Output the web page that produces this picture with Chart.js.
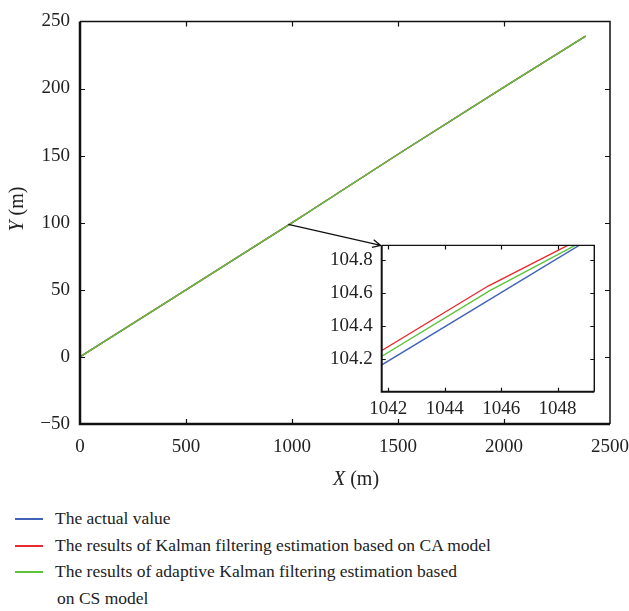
<!DOCTYPE html>
<html>
<head>
<meta charset="utf-8">
<script src="https://cdn.jsdelivr.net/npm/chart.js@4.4.1/dist/chart.umd.min.js"></script>
<style>
  html, body { margin: 0; padding: 0; background: #fff; }
  #wrap { position: relative; width: 629px; height: 611px; overflow: hidden; }
  #main { position: absolute; left: 0; top: 0; }
  #inset { position: absolute; left: 320px; top: 225px; }
  #legend { position: absolute; left: 0; top: 505px; font-family: "Liberation Serif", serif; font-size: 17.5px; color: #222; }
  #legend .row { position: relative; height: 26.7px; line-height: 26.7px; padding-left: 55px; white-space: nowrap; }
  #legend .swatch { position: absolute; left: 15px; top: 13px; width: 28px; height: 2px; }
</style>
</head>
<body>
<div id="wrap">
  <canvas id="main" width="680" height="500"></canvas>
  <canvas id="inset" width="300" height="200"></canvas>
  <div id="legend"></div>
</div>
<script>
// series (x in m, y in m)
const actualX = [0, 500, 1000, 1041, 1049.5, 1500, 2000, 2385];
const actualY = [0, 50, 99.9, 104.083, 104.967, 151, 201, 239];
const caX = [0, 500, 1000, 1041, 1045.54, 1049.5, 1500, 2000, 2385];
const caY = [0, 50, 100, 104.17, 104.643, 104.99, 151, 201, 239];
const csX = [0, 500, 1000, 1041, 1045.6, 1049.5, 1500, 2000, 2385];
const csY = [0, 50, 100, 104.135, 104.615, 104.97, 151, 201, 239];

const seriesNames = [
  'The actual value',
  'The results of Kalman filtering estimation based on CA model',
  'The results of adaptive Kalman filtering estimation based<br>on CS model'
];
const seriesColors = ['#4062b8', '#ea2a30', '#5cc43a'];

const mainXTicks = [0, 500, 1000, 1500, 2000, 2500];
const mainYTicks = [-50, 0, 50, 100, 150, 200, 250];
const insetXTicks = [1042, 1044, 1046, 1048];
const insetYTicks = [104.2, 104.4, 104.6, 104.8];

const zoomFrom = { x: 982.6, y: 98.8 };

const FONT = '"Liberation Serif", "DejaVu Serif", serif';

function pts(xs, ys) { return xs.map((x, i) => ({ x: x, y: ys[i] })); }

function makeDatasets() {
  // lowest order is drawn on top: green over red over blue
  return [
    { data: pts(actualX, actualY), borderColor: seriesColors[0], order: 2 },
    { data: pts(caX, caY), borderColor: seriesColors[1], order: 1 },
    { data: pts(csX, csY), borderColor: seriesColors[2], order: 0 }
  ].map(d => Object.assign(d, { borderWidth: 1.4, pointRadius: 0, tension: 0, fill: false }));
}

// inward tick marks + box
const frame = {
  id: 'frame',
  afterDraw(chart, args, opts) {
    const { ctx, chartArea: a } = chart;
    const xs = chart.scales.x, ys = chart.scales.y;
    const L = opts.len;
    ctx.save();
    ctx.strokeStyle = '#111';
    ctx.lineWidth = 1.2;
    ctx.beginPath();
    xs.ticks.forEach(t => {
      const px = Math.round(xs.getPixelForValue(t.value)) + 0.5;
      if (px <= a.left + 1 || px >= a.right - 1) return;
      ctx.moveTo(px, a.bottom); ctx.lineTo(px, a.bottom - L);
      ctx.moveTo(px, a.top); ctx.lineTo(px, a.top + L);
    });
    ys.ticks.forEach(t => {
      const py = Math.round(ys.getPixelForValue(t.value)) + 0.5;
      if (py <= a.top + 1 || py >= a.bottom - 1) return;
      ctx.moveTo(a.left, py); ctx.lineTo(a.left + L, py);
      ctx.moveTo(a.right, py); ctx.lineTo(a.right - L, py);
    });
    ctx.stroke();
    // box: heavier left/bottom
    ctx.lineWidth = opts.thin;
    ctx.beginPath();
    ctx.moveTo(a.left, a.top); ctx.lineTo(a.right, a.top); ctx.lineTo(a.right, a.bottom);
    ctx.stroke();
    ctx.lineWidth = opts.thick;
    ctx.beginPath();
    ctx.moveTo(a.left, a.top); ctx.lineTo(a.left, a.bottom); ctx.lineTo(a.right, a.bottom);
    ctx.stroke();
    ctx.restore();
  }
};

function drawMixed(ctx, parts, cx, cy) {
  let w = 0;
  parts.forEach(p => { ctx.font = p.font; w += ctx.measureText(p.text).width; });
  let x = cx - w / 2;
  ctx.textBaseline = 'middle';
  ctx.textAlign = 'left';
  parts.forEach(p => { ctx.font = p.font; ctx.fillText(p.text, x, cy); x += ctx.measureText(p.text).width; });
}

const axisTitles = {
  id: 'axisTitles',
  afterDraw(chart) {
    const ctx = chart.ctx;
    const it = 'italic 20px ' + FONT, rg = '20px ' + FONT;
    ctx.save();
    ctx.fillStyle = '#222';
    drawMixed(ctx, [{ text: 'X', font: it }, { text: ' (m)', font: rg }], 356, 480);
    ctx.translate(18, 209);
    ctx.rotate(-Math.PI / 2);
    drawMixed(ctx, [{ text: 'Y', font: it }, { text: ' (m)', font: rg }], 0, 0);
    ctx.restore();
  }
};

const minusFmt = v => String(v).replace('-', '\u2212');

// inset chart first so the arrow can find its corner
const insetChart = new Chart(document.getElementById('inset'), {
  type: 'line',
  data: { datasets: makeDatasets() },
  options: {
    responsive: false,
    animation: false,
    events: [],
    layout: { padding: { top: 10, right: 25.7, left: 0, bottom: 0 } },
    plugins: { legend: { display: false }, tooltip: { enabled: false }, frame: { len: 4, thin: 1.4, thick: 2 } },
    scales: {
      x: {
        type: 'linear', min: 1041.77, max: 1049.3,
        afterBuildTicks: s => { s.ticks = insetXTicks.map(v => ({ value: v })); },
        afterFit: s => { s.height = 33.3; },
        grid: { display: false, drawTicks: false },
        border: { display: false },
        ticks: { padding: 6, color: '#222', font: { family: FONT, size: 19 }, callback: v => String(v), maxRotation: 0 }
      },
      y: {
        type: 'linear', min: 104.0, max: 104.89,
        afterBuildTicks: s => { s.ticks = insetYTicks.map(v => ({ value: v })); },
        afterFit: s => { s.width = 61.7; },
        grid: { display: false, drawTicks: false },
        border: { display: false },
        ticks: { padding: 9, color: '#222', font: { family: FONT, size: 19 }, callback: v => v.toFixed(1) }
      }
    }
  },
  plugins: [frame]
});

const arrow = {
  id: 'arrow',
  afterDraw(chart) {
    const ctx = chart.ctx;
    const x0 = chart.scales.x.getPixelForValue(zoomFrom.x);
    const y0 = chart.scales.y.getPixelForValue(zoomFrom.y);
    const ia = insetChart.chartArea;
    const x1 = 320 + ia.left - 1, y1 = 225 + ia.top;
    const ang = Math.atan2(y1 - y0, x1 - x0);
    ctx.save();
    ctx.strokeStyle = '#111';
    ctx.lineWidth = 1.3;
    ctx.beginPath();
    ctx.moveTo(x0, y0); ctx.lineTo(x1, y1);
    ctx.moveTo(x1 - 9 * Math.cos(ang - 0.45), y1 - 9 * Math.sin(ang - 0.45));
    ctx.lineTo(x1, y1);
    ctx.lineTo(x1 - 9 * Math.cos(ang + 0.45), y1 - 9 * Math.sin(ang + 0.45));
    ctx.stroke();
    ctx.restore();
  }
};

// canvas is wider than the page so the "2500" label does not shrink the plot
const mainChart = new Chart(document.getElementById('main'), {
  type: 'line',
  data: { datasets: makeDatasets() },
  options: {
    responsive: false,
    animation: false,
    events: [],
    layout: { padding: { top: 14, right: 70, left: 0, bottom: 0 } },
    plugins: { legend: { display: false }, tooltip: { enabled: false }, frame: { len: 5, thin: 1.5, thick: 2.5 } },
    scales: {
      x: {
        type: 'linear', min: 0, max: 2500,
        afterBuildTicks: s => { s.ticks = mainXTicks.map(v => ({ value: v })); },
        afterFit: s => { s.height = 76; },
        grid: { display: false, drawTicks: false },
        border: { display: false },
        ticks: { padding: 12, color: '#222', font: { family: FONT, size: 19 }, callback: v => String(v), maxRotation: 0 }
      },
      y: {
        type: 'linear', min: -50, max: 250,
        afterBuildTicks: s => { s.ticks = mainYTicks.map(v => ({ value: v })); },
        afterFit: s => { s.width = 80; },
        grid: { display: false, drawTicks: false },
        border: { display: false },
        ticks: { padding: 10, color: '#222', font: { family: FONT, size: 19 }, callback: minusFmt }
      }
    }
  },
  plugins: [frame, arrow, axisTitles]
});

// legend
document.getElementById('legend').innerHTML = seriesNames.map((n, i) =>
  `<div class="row"><span class="swatch" style="background:${seriesColors[i]}"></span>${n}</div>`
).join('').replace('<br>', '<br><span style="display:inline-block;width:2px"></span>');
</script>
</body>
</html>
